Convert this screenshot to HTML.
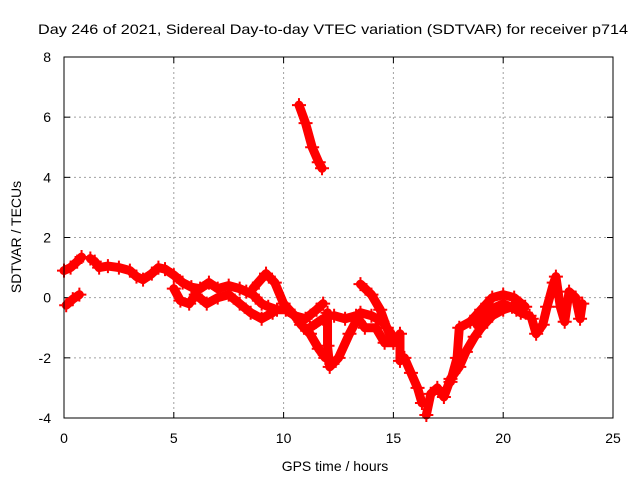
<!DOCTYPE html>
<html><head><meta charset="utf-8"><style>
body{margin:0;background:#fff;}
svg{display:block;font-family:"Liberation Sans",sans-serif;}
</style></head><body>
<svg id="chart" width="640" height="480" xmlns="http://www.w3.org/2000/svg">
<text x="333" y="34" font-size="14" text-anchor="middle" textLength="590" lengthAdjust="spacingAndGlyphs">Day 246 of 2021, Sidereal Day-to-day VTEC variation (SDTVAR) for receiver p714</text>
<g id="grid"></g>
<g id="ticks"></g>
<g id="marks"></g>
<rect x="64" y="57" width="549" height="361" fill="none" stroke="#000" stroke-width="1"/>
<text x="335" y="471" font-size="14" text-anchor="middle">GPS time / hours</text>
<text x="21" y="237" font-size="14" text-anchor="middle" transform="rotate(-90 21 237)">SDTVAR / TECUs</text>
</svg>
<script>
const xTicks=[0,5,10,15,20,25];
const yTicks=[-4,-2,0,2,4,6,8];
const trackA=[[0,0.9],[0.3,1.0],[0.6,1.2],[0.8,1.35]];
const trackB=[[0.1,-0.25],[0.4,-0.05],[0.7,0.1]];
const trackC=[[1.2,1.3],[1.4,1.2],[1.6,1.0],[2,1.05],[2.5,1.0],[3,0.9],[3.3,0.7],[3.6,0.6],[4,0.8],[4.3,1.0],[4.6,0.95],[5,0.75],[5.4,0.5],[5.8,0.35],[6.2,0.3],[6.6,0.5],[7,0.3],[7.5,0.4],[8,0.3],[8.3,0.2],[8.6,0.1],[9,-0.2],[9.3,-0.3],[9.7,-0.4],[10.1,-0.4],[10.5,-0.6],[10.8,-0.9],[11.2,-1.2],[11.6,-1.7],[11.9,-2.0]];
const trackD=[[5,0.3],[5.3,-0.1],[5.7,-0.2],[6,0.1],[6.5,-0.2],[7,0],[7.5,0.1],[8,-0.2],[8.5,-0.5],[9,-0.7],[9.5,-0.5]];
const trackE=[[8.6,0.3],[9.2,0.8],[9.6,0.5],[10,-0.2],[10.5,-0.6],[11,-0.7],[11.5,-0.4],[11.8,-0.2]];
const trackF=[[11.2,-1.0],[11.8,-0.7]];
const trackSpike=[[10.7,6.4],[11,5.8],[11.3,5.0],[11.6,4.5],[11.75,4.3]];
const trackG=[[12.0,-0.5],[12.0,-1.6],[12.1,-2.3],[12.5,-2.0],[13,-1.2],[13.5,-0.5],[14,-0.6],[14.5,-0.8],[15,-1.3]];
const trackH=[[12.3,-0.6],[12.8,-0.7],[13.3,-0.6],[13.7,-1.0],[14.2,-1.0],[14.6,-1.5],[15.0,-1.5]];
const trackI=[[13.5,0.45],[14,0.1],[14.4,-0.4],[14.7,-1.0],[15,-1.5]];
const trackJ=[[15.3,-1.2],[15.3,-2.1],[15.5,-2.0],[15.8,-2.5],[16.1,-3.0],[16.3,-3.5]];
const trackK=[[16.5,-3.9],[16.7,-3.2],[17,-3.0],[17.3,-3.3],[17.6,-2.7],[18,-2.3],[18.3,-1.8],[18.7,-1.3],[19,-1.0],[19.5,-0.6],[20,-0.4],[20.4,-0.3],[20.8,-0.5],[21.2,-0.6]];
const trackL=[[17.6,-2.8],[17.9,-2.0],[18,-1.0],[18.5,-0.8],[19,-0.4],[19.5,0],[20,0.1],[20.5,0],[21,-0.3]];
const trackM=[[18.8,-0.9],[19.4,-0.4],[20,-0.2],[20.6,-0.4]];
const trackN=[[21.3,-0.7],[21.5,-1.2],[21.8,-0.9],[22,-0.3],[22.3,0.5],[22.4,0.7],[22.6,-0.3],[22.8,-0.8],[23,0.2],[23.3,0],[23.5,-0.7],[23.6,-0.2]];
const tracks=[trackA,trackB,trackC,trackD,trackE,trackF,trackSpike,trackG,trackH,trackI,trackJ,trackK,trackL,trackM,trackN];
const NS="http://www.w3.org/2000/svg";
const X0=64,X1=613,Y0=418,Y1=57;
const xs=v=>X0+(v-0)/(25-0)*(X1-X0);
const ys=v=>Y0-(v+4)/(12)*(Y0-Y1);
function mk(t,a){const e=document.createElementNS(NS,t);for(const k in a)e.setAttribute(k,a[k]);return e;}
const grid=document.getElementById('grid'),ticks=document.getElementById('ticks'),marks=document.getElementById('marks');
xTicks.forEach(t=>{const x=xs(t);
 if(t>0&&t<25){const g=mk('line',{x1:x,x2:x,y1:Y1,y2:Y0,stroke:'#a0a0a0','stroke-dasharray':'2,3'});grid.appendChild(g);}
 const l1=mk('line',{x1:x,x2:x,y1:Y0,y2:Y0-6,stroke:'#000'});ticks.appendChild(l1);
 const l2=mk('line',{x1:x,x2:x,y1:Y1,y2:Y1+6,stroke:'#000'});ticks.appendChild(l2);
 const tx=mk('text',{x:x,y:443,'font-size':14,'text-anchor':'middle'});tx.textContent=t;
 
 
 ticks.appendChild(tx);});
yTicks.forEach(t=>{const y=ys(t);
 if(t>-4&&t<8){const g=mk('line',{x1:X0,x2:X1,y1:y,y2:y,stroke:'#a0a0a0','stroke-dasharray':'2,3'});grid.appendChild(g);}
 ticks.appendChild(mk('line',{x1:X0,x2:X0+6,y1:y,y2:y,stroke:'#000'}));
 ticks.appendChild(mk('line',{x1:X1,x2:X1-6,y1:y,y2:y,stroke:'#000'}));
 const tx=mk('text',{x:51,y:y+5,'font-size':14,'text-anchor':'end'});tx.textContent=t;
 
 
 ticks.appendChild(tx);});
tracks.forEach(tr=>{
 const pl=mk('polyline',{points:tr.map(p=>xs(p[0])+','+ys(p[1])).join(' '),fill:'none',stroke:'#ff0000','stroke-width':9,'stroke-linejoin':'round','stroke-linecap':'round'});
 
 
 marks.appendChild(pl);
 tr.forEach(p=>{const x=xs(p[0]),y=ys(p[1]);
  const m=mk('path',{d:`M${x-7},${y}H${x+7}M${x},${y-7}V${y+7}`,stroke:'#ff0000','stroke-width':2});
  
  
  marks.appendChild(m);});
});
</script>
</body></html>
